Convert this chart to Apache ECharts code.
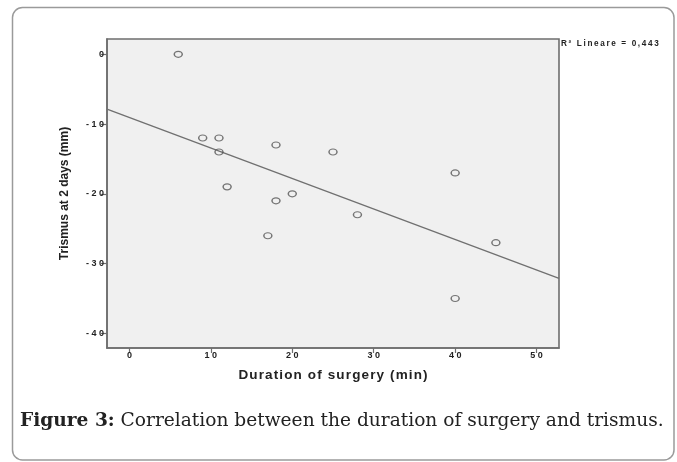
<!DOCTYPE html>
<html>
<head>
<meta charset="utf-8">
<script src="https://cdn.jsdelivr.net/npm/echarts@6/dist/echarts.min.js"></script>
<style>
html,body{margin:0;padding:0;background:#fff;}
#c{width:677px;height:462px;}
</style>
</head>
<body>
<div id="c"></div>
<script>
// Data
const duration = [6, 9, 11, 11, 12, 18, 18, 17, 20, 25, 28, 40, 40, 45];
const trismus  = [0, -12, -12, -14, -19, -13, -21, -26, -20, -14, -23, -17, -35, -27];
const fitX = [-2.75, 52.75];
const fitY = [-7.84, -32.11];
const xTicks = [0, 10, 20, 30, 40, 50];
const yTicks = [0, -10, -20, -30, -40];
const r2Text = 'R\u00B2 Lineare = 0,443';
const xTitle = 'Duration of surgery (min)';
const yTitle = 'Trismus at 2 days (mm)';
const captionBold = 'Figure 3:';
const captionText = ' Correlation between the duration of surgery and trismus.';

const spaced = (v, sep) => String(v).split('').join(sep);

const chart = echarts.init(document.getElementById('c'), null, {renderer: 'canvas'});
const tickLabel = {
  show: true, color: '#222', fontSize: 9, fontWeight: 'bold',
  fontFamily: 'Liberation Sans, Arial, sans-serif', formatter: v => spaced(v, ' ')
};
chart.setOption({
  animation: false,
  grid: {
    left: 107, top: 39, width: 452, height: 309,
    show: true, backgroundColor: '#f0f0f0', borderColor: '#6e6e6e', borderWidth: 1.6
  },
  xAxis: {
    type: 'value', min: -2.75, max: 52.75,
    name: spaced(xTitle, '\u200A'), nameLocation: 'middle', nameGap: 20,
    nameTextStyle: {color: '#222', fontSize: 13.5, fontWeight: 'bold', fontFamily: 'Liberation Sans, Arial, sans-serif'},
    axisLine: {show: true, onZero: false, lineStyle: {color: '#6e6e6e', width: 1.6}},
    axisTick: {show: true, length: 5, customValues: xTicks, lineStyle: {color: '#6e6e6e', width: 1.2}},
    axisLabel: Object.assign({margin: 3, customValues: xTicks}, tickLabel),
    splitLine: {show: false}
  },
  yAxis: {
    type: 'value', min: -42.1, max: 2.2,
    name: yTitle, nameLocation: 'middle', nameGap: 36,
    nameTextStyle: {color: '#222', fontSize: 12, fontWeight: 'bold', fontFamily: 'Liberation Sans, Arial, sans-serif'},
    axisLine: {show: true, onZero: false, lineStyle: {color: '#6e6e6e', width: 1.6}},
    axisTick: {show: true, length: 6, customValues: yTicks, lineStyle: {color: '#6e6e6e', width: 1.2}},
    axisLabel: Object.assign({margin: 3, customValues: yTicks}, tickLabel),
    splitLine: {show: false}
  },
  series: [
    {
      type: 'line',
      data: fitX.map((x, i) => [x, fitY[i]]),
      showSymbol: false, symbol: 'none',
      lineStyle: {color: '#707070', width: 1.3},
      silent: true, z: 2
    },
    {
      type: 'scatter',
      data: duration.map((x, i) => [x, trismus[i]]),
      symbol: 'circle', symbolSize: [8, 6],
      itemStyle: {color: 'rgba(0,0,0,0)', borderColor: '#555', borderWidth: 1.3},
      z: 3
    }
  ],
  graphic: [
    {
      type: 'rect', z: -1,
      shape: {x: 12.5, y: 7.5, width: 661.5, height: 452.5, r: 10},
      style: {fill: '#fff', stroke: '#9a9a9a', lineWidth: 1.5}
    },
    {
      type: 'text', left: 561, top: 40,
      style: {text: spaced(r2Text, '\u2009'), fill: '#222', font: 'bold 8.2px Liberation Sans, Arial, sans-serif'}
    },
    {
      type: 'text', left: 20, top: 412,
      style: {
        text: '{b|' + captionBold + '}{n|' + captionText + '}',
        rich: {
          b: {font: 'bold 18.6px DejaVu Serif, serif', fill: '#222'},
          n: {font: '18.6px DejaVu Serif, serif', fill: '#222'}
        }
      }
    }
  ]
});
</script>
</body>
</html>
